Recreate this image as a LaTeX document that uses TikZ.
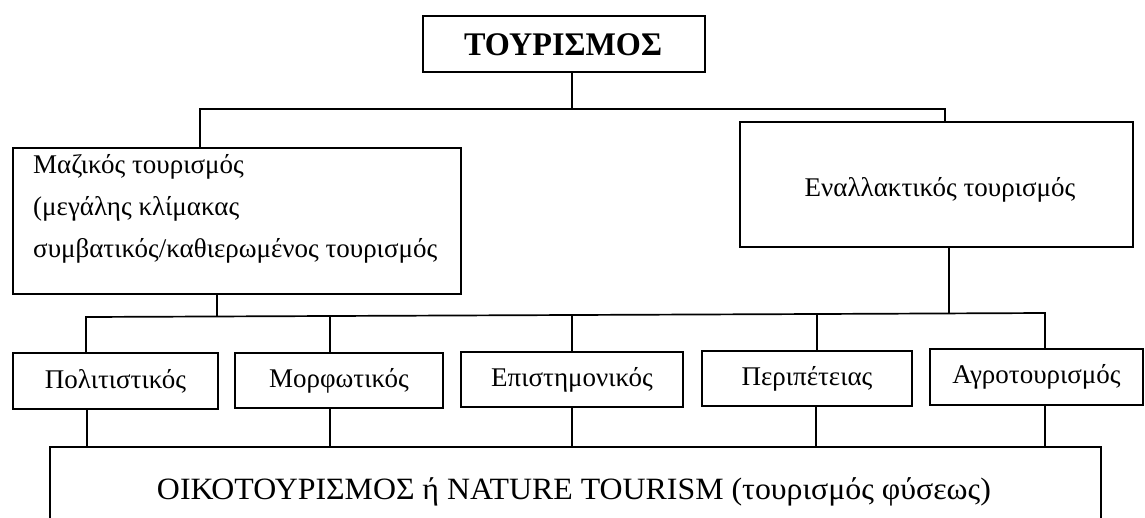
\documentclass[tikz,border=0pt]{standalone}
\usepackage{fontspec}
\setmainfont{Liberation Serif}
\begin{document}
\begin{tikzpicture}[x=1pt,y=-1pt,
  box/.style={draw, line width=1.7pt, rectangle, inner sep=0pt},
  conn/.style={line width=1.7pt},
  lbl/.style={font=\fontsize{27}{30}\selectfont}]
\useasboundingbox (0,0) rectangle (1145,517);
\clip (0,0) rectangle (1145,517);
% boxes
\node[box, minimum width=282pt, minimum height=56pt] (top) at (564,44) {};
\node (toptext) at (563,45) {\resizebox{198pt}{\height}{\fontsize{33}{34}\selectfont\bfseries ΤΟΥΡΙΣΜΟΣ}};
\node[box, minimum width=448pt, minimum height=146pt] (mass) at (237,221) {};
\node[anchor=west, align=left, inner sep=0pt, font=\fontsize{27}{42}\selectfont] (masstext) at (33,209) {Μαζικός τουρισμός\\(μεγάλης κλίμακας\\συμβατικός/καθιερωμένος τουρισμός};
\node[box, lbl, minimum width=393pt, minimum height=125pt] (enal) at (936.5,184.5) {};
\node[lbl] (enaltext) at (940,190) {Εναλλακτικός τουρισμός};
\node[box, lbl, minimum width=205pt, minimum height=56pt] (pol) at (115.5,381) {Πολιτιστικός};
\node[box, lbl, minimum width=208pt, minimum height=55pt] (mor) at (339,380.5) {Μορφωτικός};
\node[box, lbl, minimum width=222pt, minimum height=55pt] (epi) at (572,379.5) {Επιστημονικός};
\node[box, lbl, minimum width=210pt, minimum height=55pt] (per) at (807,378.5) {Περιπέτειας};
\node[box, lbl, minimum width=213pt, minimum height=56pt] (agro) at (1036.5,377) {Αγροτουρισμός};
\node[box, minimum width=1051pt, minimum height=120pt] (eco) at (575.5,507) {};
\node (ecotext) at (574,492) {\resizebox{834pt}{\height}{\fontsize{31}{32}\selectfont ΟΙΚΟΤΟΥΡΙΣΜΟΣ ή NATURE TOURISM (τουρισμός φύσεως)}};
% connectors
\coordinate (t0) at (572,109);
\coordinate (mL) at (200,109);
\coordinate (mR) at (945,109);
\draw[conn] (t0 |- top.south) -- (t0);
\draw[conn] (mL |- mass.north) -- (mL) -- (mR) -- (mR |- enal.north);
\coordinate (p1) at (217,317);
\coordinate (p2) at (949,314);
\draw[conn] (p1 |- mass.south) -- (p1);
\draw[conn] (p2 |- enal.south) -- (p2);
\coordinate (c1) at (86,317);
\coordinate (c2) at (330,316);
\coordinate (c3) at (572,315);
\coordinate (c4) at (817,314);
\coordinate (c5) at (1045,313);
\draw[conn] (c1 |- pol.north) -- (c1) -- (c2) -- (c3) -- (c4) -- (c5) -- (c5 |- agro.north);
\draw[conn] (c2) -- (c2 |- mor.north);
\draw[conn] (c3) -- (c3 |- epi.north);
\draw[conn] (c4) -- (c4 |- per.north);
\coordinate (d1) at (87,447);
\coordinate (d2) at (330,447);
\coordinate (d3) at (572,447);
\coordinate (d4) at (816,447);
\coordinate (d5) at (1045,447);
\draw[conn] (d1 |- pol.south) -- (d1 |- eco.north);
\draw[conn] (d2 |- mor.south) -- (d2 |- eco.north);
\draw[conn] (d3 |- epi.south) -- (d3 |- eco.north);
\draw[conn] (d4 |- per.south) -- (d4 |- eco.north);
\draw[conn] (d5 |- agro.south) -- (d5 |- eco.north);
\end{tikzpicture}
\end{document}
